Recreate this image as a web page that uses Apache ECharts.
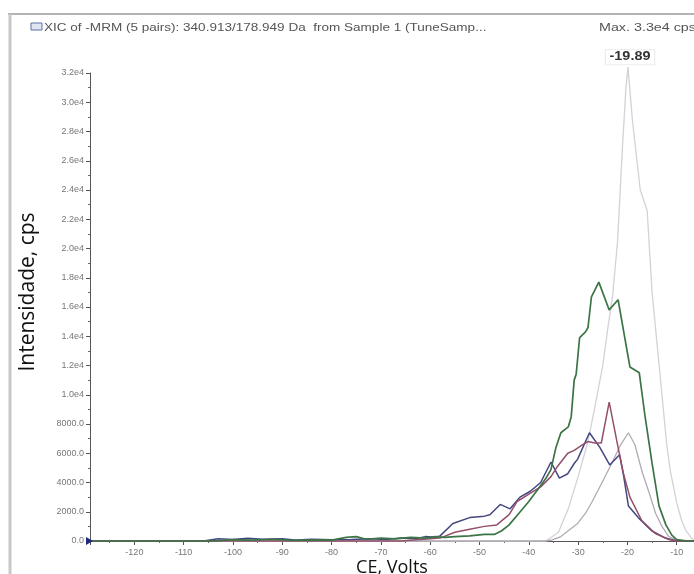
<!DOCTYPE html>
<html>
<head>
<meta charset="utf-8">
<script src="https://cdn.jsdelivr.net/npm/echarts@6/dist/echarts.min.js"></script>
<style>html,body{margin:0;padding:0;background:#fff;}#c{width:694px;height:574px;}</style>
</head>
<body>
<div id="c"></div>
<script>
// ---- data (CE in volts, intensity in cps) ----
const lightX = [-129,-36.5,-34,-32,-30,-28,-26.7,-25,-24,-23,-22,-21,-20.3,-19.89,-19,-17.4,-16,-15,-14,-13,-12,-11.3,-10,-9,-8.2,-7,-6.5];
const lightY = [0,0,600,2200,4400,6800,9000,12000,14500,16800,20500,27000,31000,32400,28800,24000,22600,17000,13500,10000,6500,4800,2600,1400,750,200,50];

const grayX = [-129,-37,-35.5,-33.5,-32,-30.1,-28.5,-27.3,-25.3,-23.2,-21.5,-19.8,-18.5,-17,-15.5,-14.3,-13,-11.6,-10,-6.5];
const grayY = [0,0,50,300,700,1200,1900,2600,3900,5300,6500,7400,6600,4700,3200,1900,1000,300,50,0];

const navyX = [-129,-106,-103,-100,-97,-94,-90,-87,-84,-80,-76,-72,-69,-66,-63,-61,-59,-58,-55.4,-52,-49,-47.9,-45.8,-43.8,-41.8,-39.7,-37.6,-35.5,-33.8,-32.1,-30.8,-30.1,-27.7,-25.6,-23.6,-21.6,-20.8,-19.8,-17.8,-15.1,-12.3,-10,-6.5];
const navyY = [0,0,150,100,180,120,150,60,120,80,100,150,100,200,150,300,250,350,1200,1600,1700,1800,2500,2200,3000,3400,4000,5400,4300,4600,5300,5600,7400,6400,5200,5900,4500,2400,1600,700,200,0,0];

const maroonX = [-129,-66,-62,-58,-55,-52,-49,-46.5,-44,-42.4,-40,-37.6,-35.5,-34.2,-32.1,-30.8,-29,-28,-26.6,-25.3,-23.7,-21.9,-20.8,-19.5,-17.1,-14.3,-11.6,-10,-6.5];
const maroonY = [0,0,100,200,600,800,1000,1100,1800,2700,3200,3700,4400,5100,6000,6200,6600,6800,6700,6700,9500,6400,4600,3000,1400,500,100,0,0];

const greenX = [-129,-104,-100,-96,-92,-88,-84,-80,-77,-75,-73,-70,-67,-64,-61,-59,-57,-55,-52,-49,-47,-45.5,-44,-42,-40,-38,-36.5,-35.5,-34.5,-33.5,-32,-31.4,-30.8,-30.4,-29.7,-28.5,-28,-27.3,-25.8,-23.7,-21.9,-19.5,-17.6,-16.5,-15,-13.6,-12.2,-11,-10,-8,-6.5];
const greenY = [0,0,100,60,120,40,80,60,250,300,120,200,150,250,200,300,250,300,350,450,450,700,1100,1900,2700,3600,4300,4900,6400,7400,7800,8500,11000,11400,13900,14300,14600,16700,17700,15800,16500,11900,11500,8700,5300,2400,1100,400,100,0,0];

const peakIndex = 13;           // apex of the light trace
const peakLabel = '-19.89';
const headerText = 'XIC of -MRM (5 pairs): 340.913/178.949 Da  from Sample 1 (TuneSamp...';
const maxText = 'Max. 3.3e4 cps';
const yTitle = 'Intensidade, cps';
const xTitle = 'CE, Volts';

const pairs = (xs, ys) => xs.map((x, i) => [x, ys[i]]);

const chart = echarts.init(document.getElementById('c'), null, {renderer: 'canvas'});
const baseFont = '"Liberation Sans", Arial, sans-serif';

function mk(name, xs, ys, color, width) {
  return {
    name, type: 'line', data: pairs(xs, ys), showSymbol: false, symbol: 'none',
    clip: false, smooth: false,
    lineStyle: {color, width}, itemStyle: {color}, z: 2
  };
}

chart.setOption({
  animation: false,
  backgroundColor: '#fff',
  grid: {left: 90, right: 0, top: 73, bottom: 33},
  xAxis: {
    type: 'value', min: -129, max: -6.5, splitNumber: 12,
    axisLine: {lineStyle: {color: '#555', width: 1}},
    axisTick: {length: 4, lineStyle: {color: '#555'}},
    minorTick: {show: true, splitNumber: 2, length: 2, lineStyle: {color: '#666'}},
    axisLabel: {color: '#777', fontSize: 9, fontFamily: baseFont, margin: 7,
      showMinLabel: false, showMaxLabel: false,
      formatter: v => (v % 10 === 0) ? String(v) : ''},
    splitLine: {show: false}, minorSplitLine: {show: false}
  },
  yAxis: {
    type: 'value', min: 0, max: 32000, interval: 2000,
    axisLine: {show: true, lineStyle: {color: '#555', width: 1}},
    axisTick: {show: true, length: 4, lineStyle: {color: '#555'}},
    minorTick: {show: true, splitNumber: 2, length: 2, lineStyle: {color: '#666'}},
    axisLabel: {color: '#777', fontSize: 9, fontFamily: baseFont, margin: 6,
      formatter: v => v >= 10000 ? (v / 10000).toFixed(1) + 'e4' : v.toFixed(1)},
    splitLine: {show: false}
  },
  series: [
    mk('light', lightX, lightY, '#d2d2d8', 1.3),
    mk('gray', grayX, grayY, '#b3abb4', 1.3),
    mk('navy', navyX, navyY, '#444682', 1.5),
    mk('maroon', maroonX, maroonY, '#94506a', 1.5),
    mk('green', greenX, greenY, '#3b7445', 1.7)
  ]
});

const o = chart.convertToPixel({gridIndex: 0}, [-129, 0]);
const pk = chart.convertToPixel({gridIndex: 0}, [lightX[peakIndex], lightY[peakIndex]]);
chart.setOption({
  graphic: [
    {type: 'line', shape: {x1: 8, y1: 14, x2: 694, y2: 14}, style: {stroke: '#b4b4b4', lineWidth: 2}},
    {type: 'line', shape: {x1: 10, y1: 14, x2: 10, y2: 574}, style: {stroke: '#c8c8c8', lineWidth: 3}},
    {type: 'rect', shape: {x: 31, y: 23, width: 11, height: 7}, style: {fill: '#dfe6f2', stroke: '#5b70a3', lineWidth: 1}},
    {type: 'text', x: 44, y: 28, scaleX: 1.23,
      style: {text: headerText, font: '11px ' + baseFont, fill: '#555', textVerticalAlign: 'middle'}},
    {type: 'text', x: 599, y: 28, scaleX: 1.3,
      style: {text: maxText, font: '11px ' + baseFont, fill: '#555', textVerticalAlign: 'middle'}},
    {type: 'text', x: 28, y: 292, rotation: Math.PI / 2,
      style: {text: yTitle, font: '21px "Open Sans", sans-serif', fill: '#111', textAlign: 'center', textVerticalAlign: 'middle'}},
    {type: 'text', x: 392, y: 568,
      style: {text: xTitle, font: '18px "Open Sans", sans-serif', fill: '#111', textAlign: 'center', textVerticalAlign: 'middle'}},
    {type: 'text', x: pk[0] + 2, y: pk[1] - 10, scaleX: 1.2,
      style: {text: peakLabel, font: 'bold 12px ' + baseFont, fill: '#333', textAlign: 'center', textVerticalAlign: 'middle',
        backgroundColor: '#fff', borderColor: '#ececec', borderWidth: 1, borderType: 'dotted', padding: [1, 3]}, z: 20},
    {type: 'polygon', shape: {points: [[o[0] - 4, o[1] - 4], [o[0] + 3, o[1]], [o[0] - 4, o[1] + 4]]}, style: {fill: '#1f2a80'}, z: 10}
  ]
});
</script>
</body>
</html>
